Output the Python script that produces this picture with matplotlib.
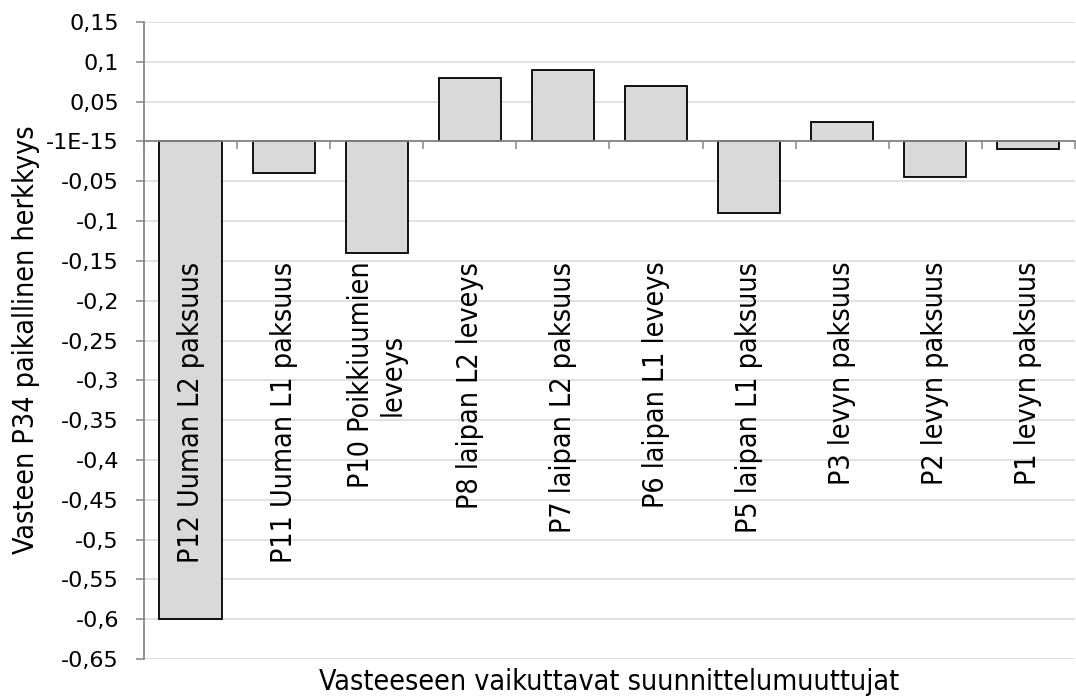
import numpy as np
import matplotlib
matplotlib.use('Agg')
import matplotlib.pyplot as plt
from matplotlib.ticker import FixedLocator, FixedFormatter

# data
kategoriat = ['P12 Uuman L2 paksuus', 'P11 Uuman L1 paksuus', 'P10 Poikkiuumien\nleveys',
              'P8 laipan L2 leveys', 'P7 laipan L2 paksuus', 'P6 laipan L1 leveys',
              'P5 laipan L1 paksuus', 'P3 levyn paksuus', 'P2 levyn paksuus', 'P1 levyn paksuus']
herkkyys = [-0.60, -0.04, -0.14, 0.08, 0.09, 0.07, -0.09, 0.025, -0.045, -0.01]
y_ticks = [0.15, 0.10, 0.05, 0.0, -0.05, -0.10, -0.15, -0.20, -0.25, -0.30,
           -0.35, -0.40, -0.45, -0.50, -0.55, -0.60, -0.65]
y_tick_labels = ['0,15', '0,1', '0,05', '-1E-15', '-0,05', '-0,1', '-0,15', '-0,2', '-0,25',
                 '-0,3', '-0,35', '-0,4', '-0,45', '-0,5', '-0,55', '-0,6', '-0,65']

plt.rcParams['font.family'] = ['DejaVu Sans']

fig = plt.figure(figsize=(10.76, 6.99), dpi=100)
ax = fig.add_axes([0.1338, 0.0572, 0.8652, 0.9113])

x = np.arange(len(kategoriat))
ax.bar(x, herkkyys, width=0.667, color='#d9d9d9', edgecolor='black', linewidth=1.3, zorder=2)

ax.set_xlim(-0.5, len(kategoriat) - 0.5)
ax.set_ylim(-0.65, 0.15)

ax.yaxis.set_major_locator(FixedLocator(y_ticks))
ax.yaxis.set_major_formatter(FixedFormatter(y_tick_labels))
ax.tick_params(axis='y', labelsize=16, length=6, width=1.1, color='#868686', pad=12)
ax.grid(axis='y', color='#d9d9d9', linewidth=1.1, zorder=0)
ax.set_axisbelow(True)

# x axis line at zero with ticks at category boundaries
ax.spines['bottom'].set_position(('data', 0))
ax.spines['bottom'].set_color('#868686')
ax.spines['bottom'].set_linewidth(1.3)
ax.spines['bottom'].set_zorder(3)
ax.spines['left'].set_color('#868686')
ax.spines['left'].set_linewidth(1.3)
ax.spines['top'].set_visible(False)
ax.spines['right'].set_visible(False)
ax.set_xticks(np.arange(len(kategoriat) + 1) - 0.5)
ax.set_xticklabels([])
ax.tick_params(axis='x', length=6, width=1.1, color='#868686', direction='out')

for i, nimi in enumerate(kategoriat):
    ax.text(i, -0.151, nimi, rotation=90, ha='center', va='top', multialignment='center',
            fontsize=20.5, fontstretch='condensed', linespacing=1.15, zorder=4)

fig.text(0.024, 0.514, 'Vasteen P34 paikallinen herkkyys', rotation=90, ha='center', va='center',
         fontsize=20.5, fontstretch='condensed')
fig.text(0.566, 0.004, 'Vasteeseen vaikuttavat suunnittelumuuttujat', ha='center', va='bottom',
         fontsize=20.5, fontstretch='condensed')

plt.savefig('out.png', dpi=100)
